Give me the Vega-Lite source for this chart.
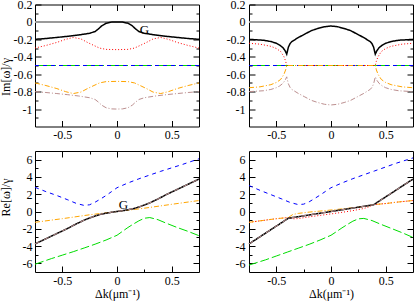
{
  "$schema": "https://vega.github.io/schema/vega-lite/v6.json",
  "autosize": {"type": "none"},
  "padding": {"left": 35, "top": 4.5, "right": 380, "bottom": 297.5},
  "background": "white",
  "bounds": "flush",
  "columns": 2,
  "spacing": {"row": 24.5, "column": 50},
  "config": {
    "view": {"stroke": "#000000", "strokeWidth": 1},
    "axis": {"domain": false, "grid": false, "tickColor": "#000000", "tickWidth": 1, "labelColor": "#000000", "labelFont": "Liberation Serif", "labelFontSize": 12, "titleFont": "Liberation Serif", "titleFontSize": 12, "titleFontWeight": "normal", "titleColor": "#000000", "labelOverlap": false, "labelFlush": false, "labelBound": false},
    "text": {"font": "Liberation Serif", "fontSize": 13, "color": "#000000"}
  },
  "datasets": {
    "tl": [
      {"s":"zero","k":-0.75,"v":0},{"s":"zero","k":0.75,"v":0},
      {"s":"green","k":-0.75,"v":-0.5},{"s":"green","k":0.75,"v":-0.5},
      {"s":"blue","k":-0.75,"v":-0.5},{"s":"blue","k":0.75,"v":-0.5},
      {"s":"red","k":-0.75,"v":-0.3},{"s":"red","k":-0.65,"v":-0.27},{"s":"red","k":-0.55,"v":-0.235},{"s":"red","k":-0.47,"v":-0.2},{"s":"red","k":-0.4,"v":-0.178},{"s":"red","k":-0.33,"v":-0.195},{"s":"red","k":-0.27,"v":-0.235},{"s":"red","k":-0.22,"v":-0.265},{"s":"red","k":-0.16,"v":-0.3},{"s":"red","k":-0.1,"v":-0.315},{"s":"red","k":0,"v":-0.318},{"s":"red","k":0.1,"v":-0.315},{"s":"red","k":0.16,"v":-0.3},{"s":"red","k":0.22,"v":-0.265},{"s":"red","k":0.27,"v":-0.235},{"s":"red","k":0.33,"v":-0.195},{"s":"red","k":0.4,"v":-0.178},{"s":"red","k":0.47,"v":-0.2},{"s":"red","k":0.55,"v":-0.235},{"s":"red","k":0.65,"v":-0.27},{"s":"red","k":0.75,"v":-0.3},
      {"s":"orange","k":-0.75,"v":-0.7},{"s":"orange","k":-0.65,"v":-0.73},{"s":"orange","k":-0.55,"v":-0.765},{"s":"orange","k":-0.47,"v":-0.8},{"s":"orange","k":-0.4,"v":-0.822},{"s":"orange","k":-0.33,"v":-0.805},{"s":"orange","k":-0.27,"v":-0.765},{"s":"orange","k":-0.22,"v":-0.735},{"s":"orange","k":-0.16,"v":-0.7},{"s":"orange","k":-0.1,"v":-0.685},{"s":"orange","k":0,"v":-0.682},{"s":"orange","k":0.1,"v":-0.685},{"s":"orange","k":0.16,"v":-0.7},{"s":"orange","k":0.22,"v":-0.735},{"s":"orange","k":0.27,"v":-0.765},{"s":"orange","k":0.33,"v":-0.805},{"s":"orange","k":0.4,"v":-0.822},{"s":"orange","k":0.47,"v":-0.8},{"s":"orange","k":0.55,"v":-0.765},{"s":"orange","k":0.65,"v":-0.73},{"s":"orange","k":0.75,"v":-0.7},
      {"s":"black","k":-0.75,"v":-0.2},{"s":"black","k":-0.65,"v":-0.19},{"s":"black","k":-0.55,"v":-0.178},{"s":"black","k":-0.45,"v":-0.165},{"s":"black","k":-0.35,"v":-0.15},{"s":"black","k":-0.25,"v":-0.13},{"s":"black","k":-0.2,"v":-0.11},{"s":"black","k":-0.17,"v":-0.08},{"s":"black","k":-0.14,"v":-0.045},{"s":"black","k":-0.1,"v":-0.015},{"s":"black","k":-0.05,"v":-0.002},{"s":"black","k":0,"v":0},{"s":"black","k":0.05,"v":-0.002},{"s":"black","k":0.1,"v":-0.015},{"s":"black","k":0.14,"v":-0.045},{"s":"black","k":0.17,"v":-0.08},{"s":"black","k":0.2,"v":-0.11},{"s":"black","k":0.25,"v":-0.13},{"s":"black","k":0.35,"v":-0.15},{"s":"black","k":0.45,"v":-0.165},{"s":"black","k":0.55,"v":-0.178},{"s":"black","k":0.65,"v":-0.19},{"s":"black","k":0.75,"v":-0.2},
      {"s":"brown","k":-0.75,"v":-0.8},{"s":"brown","k":-0.65,"v":-0.81},{"s":"brown","k":-0.55,"v":-0.822},{"s":"brown","k":-0.45,"v":-0.835},{"s":"brown","k":-0.35,"v":-0.85},{"s":"brown","k":-0.25,"v":-0.87},{"s":"brown","k":-0.2,"v":-0.89},{"s":"brown","k":-0.17,"v":-0.92},{"s":"brown","k":-0.14,"v":-0.955},{"s":"brown","k":-0.1,"v":-0.985},{"s":"brown","k":-0.05,"v":-0.998},{"s":"brown","k":0,"v":-1},{"s":"brown","k":0.05,"v":-0.998},{"s":"brown","k":0.1,"v":-0.985},{"s":"brown","k":0.14,"v":-0.955},{"s":"brown","k":0.17,"v":-0.92},{"s":"brown","k":0.2,"v":-0.89},{"s":"brown","k":0.25,"v":-0.87},{"s":"brown","k":0.35,"v":-0.85},{"s":"brown","k":0.45,"v":-0.835},{"s":"brown","k":0.55,"v":-0.822},{"s":"brown","k":0.65,"v":-0.81},{"s":"brown","k":0.75,"v":-0.8}
    ],
    "tr": [
      {"s":"zero","k":-0.75,"v":0},{"s":"zero","k":0.75,"v":0},
      {"s":"green","k":-0.75,"v":-0.5},{"s":"green","k":0.75,"v":-0.5},
      {"s":"blue","k":-0.75,"v":-0.5},{"s":"blue","k":0.75,"v":-0.5},
      {"s":"red","k":-0.75,"v":-0.245},{"s":"red","k":-0.65,"v":-0.255},{"s":"red","k":-0.55,"v":-0.28},{"s":"red","k":-0.5,"v":-0.305},{"s":"red","k":-0.46,"v":-0.34},{"s":"red","k":-0.43,"v":-0.4},{"s":"red","k":-0.415,"v":-0.45},{"s":"red","k":-0.405,"v":-0.5},{"s":"red","k":0.405,"v":-0.5},{"s":"red","k":0.415,"v":-0.45},{"s":"red","k":0.43,"v":-0.4},{"s":"red","k":0.46,"v":-0.34},{"s":"red","k":0.5,"v":-0.305},{"s":"red","k":0.55,"v":-0.28},{"s":"red","k":0.65,"v":-0.255},{"s":"red","k":0.75,"v":-0.245},
      {"s":"orange","k":-0.75,"v":-0.755},{"s":"orange","k":-0.65,"v":-0.745},{"s":"orange","k":-0.55,"v":-0.72},{"s":"orange","k":-0.5,"v":-0.695},{"s":"orange","k":-0.46,"v":-0.66},{"s":"orange","k":-0.43,"v":-0.6},{"s":"orange","k":-0.415,"v":-0.55},{"s":"orange","k":-0.405,"v":-0.5},{"s":"orange","k":0.405,"v":-0.5},{"s":"orange","k":0.415,"v":-0.55},{"s":"orange","k":0.43,"v":-0.6},{"s":"orange","k":0.46,"v":-0.66},{"s":"orange","k":0.5,"v":-0.695},{"s":"orange","k":0.55,"v":-0.72},{"s":"orange","k":0.65,"v":-0.745},{"s":"orange","k":0.75,"v":-0.755},
      {"s":"black","k":-0.75,"v":-0.2},{"s":"black","k":-0.62,"v":-0.21},{"s":"black","k":-0.55,"v":-0.225},{"s":"black","k":-0.5,"v":-0.245},{"s":"black","k":-0.47,"v":-0.265},{"s":"black","k":-0.44,"v":-0.295},{"s":"black","k":-0.42,"v":-0.33},{"s":"black","k":-0.405,"v":-0.37},{"s":"black","k":-0.39,"v":-0.29},{"s":"black","k":-0.375,"v":-0.25},{"s":"black","k":-0.36,"v":-0.227},{"s":"black","k":-0.3,"v":-0.18},{"s":"black","k":-0.24,"v":-0.14},{"s":"black","k":-0.18,"v":-0.1},{"s":"black","k":-0.12,"v":-0.075},{"s":"black","k":-0.06,"v":-0.055},{"s":"black","k":0,"v":-0.047},{"s":"black","k":0.06,"v":-0.055},{"s":"black","k":0.12,"v":-0.075},{"s":"black","k":0.18,"v":-0.1},{"s":"black","k":0.24,"v":-0.14},{"s":"black","k":0.3,"v":-0.18},{"s":"black","k":0.36,"v":-0.227},{"s":"black","k":0.375,"v":-0.25},{"s":"black","k":0.39,"v":-0.29},{"s":"black","k":0.405,"v":-0.37},{"s":"black","k":0.42,"v":-0.33},{"s":"black","k":0.44,"v":-0.295},{"s":"black","k":0.47,"v":-0.265},{"s":"black","k":0.5,"v":-0.245},{"s":"black","k":0.55,"v":-0.225},{"s":"black","k":0.62,"v":-0.21},{"s":"black","k":0.75,"v":-0.2},
      {"s":"brown","k":-0.75,"v":-0.8},{"s":"brown","k":-0.62,"v":-0.79},{"s":"brown","k":-0.55,"v":-0.775},{"s":"brown","k":-0.5,"v":-0.755},{"s":"brown","k":-0.47,"v":-0.735},{"s":"brown","k":-0.44,"v":-0.705},{"s":"brown","k":-0.42,"v":-0.67},{"s":"brown","k":-0.405,"v":-0.63},{"s":"brown","k":-0.39,"v":-0.71},{"s":"brown","k":-0.375,"v":-0.75},{"s":"brown","k":-0.36,"v":-0.773},{"s":"brown","k":-0.3,"v":-0.82},{"s":"brown","k":-0.24,"v":-0.86},{"s":"brown","k":-0.18,"v":-0.9},{"s":"brown","k":-0.12,"v":-0.925},{"s":"brown","k":-0.06,"v":-0.945},{"s":"brown","k":0,"v":-0.953},{"s":"brown","k":0.06,"v":-0.945},{"s":"brown","k":0.12,"v":-0.925},{"s":"brown","k":0.18,"v":-0.9},{"s":"brown","k":0.24,"v":-0.86},{"s":"brown","k":0.3,"v":-0.82},{"s":"brown","k":0.36,"v":-0.773},{"s":"brown","k":0.375,"v":-0.75},{"s":"brown","k":0.39,"v":-0.71},{"s":"brown","k":0.405,"v":-0.63},{"s":"brown","k":0.42,"v":-0.67},{"s":"brown","k":0.44,"v":-0.705},{"s":"brown","k":0.47,"v":-0.735},{"s":"brown","k":0.5,"v":-0.755},{"s":"brown","k":0.55,"v":-0.775},{"s":"brown","k":0.62,"v":-0.79},{"s":"brown","k":0.75,"v":-0.8}
    ],
    "bl": [
      {"s":"blue","k":-0.75,"v":2.8},{"s":"blue","k":-0.65,"v":2.3},{"s":"blue","k":-0.55,"v":1.85},{"s":"blue","k":-0.45,"v":1.35},{"s":"blue","k":-0.375,"v":0.95},{"s":"blue","k":-0.3,"v":0.7},{"s":"blue","k":-0.25,"v":0.78},{"s":"blue","k":-0.2,"v":1.08},{"s":"blue","k":-0.15,"v":1.45},{"s":"blue","k":-0.1,"v":1.85},{"s":"blue","k":-0.05,"v":2.3},{"s":"blue","k":0,"v":2.75},{"s":"blue","k":0.1,"v":3.3},{"s":"blue","k":0.2,"v":3.78},{"s":"blue","k":0.3,"v":4.22},{"s":"blue","k":0.4,"v":4.65},{"s":"blue","k":0.5,"v":5.05},{"s":"blue","k":0.6,"v":5.45},{"s":"blue","k":0.75,"v":6.1},
      {"s":"green","k":-0.75,"v":-6.1},{"s":"green","k":-0.6,"v":-5.45},{"s":"green","k":-0.5,"v":-5.05},{"s":"green","k":-0.4,"v":-4.65},{"s":"green","k":-0.3,"v":-4.22},{"s":"green","k":-0.2,"v":-3.78},{"s":"green","k":-0.1,"v":-3.3},{"s":"green","k":0,"v":-2.75},{"s":"green","k":0.05,"v":-2.3},{"s":"green","k":0.1,"v":-1.85},{"s":"green","k":0.15,"v":-1.45},{"s":"green","k":0.2,"v":-1.08},{"s":"green","k":0.25,"v":-0.78},{"s":"green","k":0.3,"v":-0.7},{"s":"green","k":0.375,"v":-0.95},{"s":"green","k":0.45,"v":-1.35},{"s":"green","k":0.55,"v":-1.85},{"s":"green","k":0.65,"v":-2.3},{"s":"green","k":0.75,"v":-2.8},
      {"s":"orange","k":-0.75,"v":-1.25},{"s":"orange","k":-0.5,"v":-0.83},{"s":"orange","k":-0.25,"v":-0.38},{"s":"orange","k":-0.1,"v":-0.15},{"s":"orange","k":0,"v":0},{"s":"orange","k":0.1,"v":0.15},{"s":"orange","k":0.25,"v":0.38},{"s":"orange","k":0.5,"v":0.83},{"s":"orange","k":0.75,"v":1.27},
      {"s":"black","k":-0.75,"v":-3.75},{"s":"black","k":-0.65,"v":-3.15},{"s":"black","k":-0.55,"v":-2.55},{"s":"black","k":-0.45,"v":-1.95},{"s":"black","k":-0.375,"v":-1.45},{"s":"black","k":-0.3,"v":-1.0},{"s":"black","k":-0.25,"v":-0.75},{"s":"black","k":-0.2,"v":-0.52},{"s":"black","k":-0.15,"v":-0.33},{"s":"black","k":-0.1,"v":-0.2},{"s":"black","k":-0.05,"v":-0.09},{"s":"black","k":0,"v":0},{"s":"black","k":0.05,"v":0.09},{"s":"black","k":0.1,"v":0.2},{"s":"black","k":0.15,"v":0.33},{"s":"black","k":0.2,"v":0.52},{"s":"black","k":0.25,"v":0.75},{"s":"black","k":0.3,"v":1.0},{"s":"black","k":0.375,"v":1.45},{"s":"black","k":0.45,"v":1.95},{"s":"black","k":0.55,"v":2.55},{"s":"black","k":0.65,"v":3.15},{"s":"black","k":0.75,"v":3.75},
      {"s":"brown","k":-0.75,"v":-3.75},{"s":"brown","k":-0.65,"v":-3.15},{"s":"brown","k":-0.55,"v":-2.55},{"s":"brown","k":-0.45,"v":-1.95},{"s":"brown","k":-0.375,"v":-1.45},{"s":"brown","k":-0.3,"v":-1.0},{"s":"brown","k":-0.25,"v":-0.75},{"s":"brown","k":-0.2,"v":-0.52},{"s":"brown","k":-0.15,"v":-0.33},{"s":"brown","k":-0.1,"v":-0.2},{"s":"brown","k":-0.05,"v":-0.09},{"s":"brown","k":0,"v":0},{"s":"brown","k":0.05,"v":0.09},{"s":"brown","k":0.1,"v":0.2},{"s":"brown","k":0.15,"v":0.33},{"s":"brown","k":0.2,"v":0.52},{"s":"brown","k":0.25,"v":0.75},{"s":"brown","k":0.3,"v":1.0},{"s":"brown","k":0.375,"v":1.45},{"s":"brown","k":0.45,"v":1.95},{"s":"brown","k":0.55,"v":2.55},{"s":"brown","k":0.65,"v":3.15},{"s":"brown","k":0.75,"v":3.75}
    ],
    "br": [
      {"s":"blue","k":-0.75,"v":3.0},{"s":"blue","k":-0.65,"v":2.45},{"s":"blue","k":-0.55,"v":1.95},{"s":"blue","k":-0.45,"v":1.45},{"s":"blue","k":-0.375,"v":1.05},{"s":"blue","k":-0.3,"v":0.8},{"s":"blue","k":-0.25,"v":0.85},{"s":"blue","k":-0.2,"v":1.12},{"s":"blue","k":-0.15,"v":1.5},{"s":"blue","k":-0.1,"v":1.9},{"s":"blue","k":-0.05,"v":2.33},{"s":"blue","k":0,"v":2.75},{"s":"blue","k":0.1,"v":3.3},{"s":"blue","k":0.2,"v":3.8},{"s":"blue","k":0.3,"v":4.25},{"s":"blue","k":0.4,"v":4.7},{"s":"blue","k":0.5,"v":5.15},{"s":"blue","k":0.6,"v":5.6},{"s":"blue","k":0.75,"v":6.2},
      {"s":"green","k":-0.75,"v":-6.2},{"s":"green","k":-0.6,"v":-5.6},{"s":"green","k":-0.5,"v":-5.15},{"s":"green","k":-0.4,"v":-4.7},{"s":"green","k":-0.3,"v":-4.25},{"s":"green","k":-0.2,"v":-3.8},{"s":"green","k":-0.1,"v":-3.3},{"s":"green","k":0,"v":-2.75},{"s":"green","k":0.05,"v":-2.33},{"s":"green","k":0.1,"v":-1.9},{"s":"green","k":0.15,"v":-1.5},{"s":"green","k":0.2,"v":-1.12},{"s":"green","k":0.25,"v":-0.85},{"s":"green","k":0.3,"v":-0.8},{"s":"green","k":0.375,"v":-1.05},{"s":"green","k":0.45,"v":-1.45},{"s":"green","k":0.55,"v":-1.95},{"s":"green","k":0.65,"v":-2.45},{"s":"green","k":0.75,"v":-3.0},
      {"s":"red","k":-0.75,"v":-1.25},{"s":"red","k":-0.6,"v":-1.0},{"s":"red","k":-0.5,"v":-0.83},{"s":"red","k":-0.39,"v":-0.7},{"s":"red","k":-0.35,"v":-0.85},{"s":"red","k":-0.3,"v":-0.82},{"s":"red","k":-0.2,"v":-0.62},{"s":"red","k":-0.1,"v":-0.45},{"s":"red","k":0,"v":-0.28},{"s":"red","k":0.1,"v":-0.1},{"s":"red","k":0.2,"v":0.1},{"s":"red","k":0.3,"v":0.35},{"s":"red","k":0.35,"v":0.55},{"s":"red","k":0.39,"v":0.8},{"s":"red","k":0.5,"v":0.92},{"s":"red","k":0.6,"v":1.08},{"s":"red","k":0.75,"v":1.27},
      {"s":"orange","k":-0.75,"v":-1.25},{"s":"orange","k":-0.6,"v":-1.0},{"s":"orange","k":-0.5,"v":-0.83},{"s":"orange","k":-0.39,"v":-0.7},{"s":"orange","k":-0.35,"v":-0.35},{"s":"orange","k":-0.3,"v":-0.22},{"s":"orange","k":-0.2,"v":-0.07},{"s":"orange","k":-0.1,"v":0.05},{"s":"orange","k":0,"v":0.17},{"s":"orange","k":0.1,"v":0.3},{"s":"orange","k":0.2,"v":0.43},{"s":"orange","k":0.3,"v":0.57},{"s":"orange","k":0.35,"v":0.68},{"s":"orange","k":0.39,"v":0.8},{"s":"orange","k":0.5,"v":0.92},{"s":"orange","k":0.6,"v":1.08},{"s":"orange","k":0.75,"v":1.27},
      {"s":"black","k":-0.75,"v":-3.75},{"s":"black","k":-0.65,"v":-2.93},{"s":"black","k":-0.55,"v":-2.1},{"s":"black","k":-0.45,"v":-1.28},{"s":"black","k":-0.39,"v":-0.78},{"s":"black","k":-0.3,"v":-0.6},{"s":"black","k":-0.2,"v":-0.4},{"s":"black","k":-0.1,"v":-0.2},{"s":"black","k":0,"v":0},{"s":"black","k":0.1,"v":0.2},{"s":"black","k":0.2,"v":0.4},{"s":"black","k":0.3,"v":0.6},{"s":"black","k":0.39,"v":0.78},{"s":"black","k":0.45,"v":1.28},{"s":"black","k":0.55,"v":2.1},{"s":"black","k":0.65,"v":2.93},{"s":"black","k":0.75,"v":3.75},
      {"s":"brown","k":-0.75,"v":-3.75},{"s":"brown","k":-0.65,"v":-2.93},{"s":"brown","k":-0.55,"v":-2.1},{"s":"brown","k":-0.45,"v":-1.28},{"s":"brown","k":-0.39,"v":-0.78},{"s":"brown","k":-0.3,"v":-0.6},{"s":"brown","k":-0.2,"v":-0.4},{"s":"brown","k":-0.1,"v":-0.2},{"s":"brown","k":0,"v":0},{"s":"brown","k":0.1,"v":0.2},{"s":"brown","k":0.2,"v":0.4},{"s":"brown","k":0.3,"v":0.6},{"s":"brown","k":0.39,"v":0.78},{"s":"brown","k":0.45,"v":1.28},{"s":"brown","k":0.55,"v":2.1},{"s":"brown","k":0.65,"v":2.93},{"s":"brown","k":0.75,"v":3.75}
    ]
  },
  "concat": [
    {
      "width": 164, "height": 122,
      "data": {"name": "tl"},
      "layer": [
        {"mark": {"type": "line", "strokeCap": "butt"},
         "encoding": {
           "x": {"field": "k", "type": "quantitative", "scale": {"domain": [-0.75, 0.75], "nice": false, "zero": false},
                 "axis": {"orient": "bottom", "values": [-0.5, -0.25, 0, 0.25, 0.5], "tickSize": {"condition": {"test": "round(datum.value*4)%2===0", "value": -6}, "value": -3}, "labelExpr": "round(datum.value*4)%2===0 ? replace(format(datum.value,'.1~f'),'\u2212','-') : ''", "labelPadding": 9, "title": null}},
           "y": {"field": "v", "type": "quantitative", "scale": {"domain": [-1.2, 0.2], "nice": false, "zero": false},
                 "axis": {"orient": "left", "values": [-1.1, -1, -0.9, -0.8, -0.7, -0.6, -0.5, -0.4, -0.3, -0.2, -0.1, 0, 0.1, 0.2], "tickSize": {"condition": {"test": "round(datum.value*10)%2===0", "value": -6}, "value": -3}, "labelExpr": "round(datum.value*10)%2===0 ? replace(format(datum.value,'.1~f'),'\u2212','-') : ''", "labelPadding": 9, "title": "Im[ω]/γ", "titleX": -29.5, "titleY": 72, "titleAngle": -90, "titleAlign": "center", "titleBaseline": "middle"}},
           "color": {"field": "s", "type": "nominal", "legend": null, "scale": {"domain": ["zero","blue","green","red","orange","black","brown"], "range": ["#999999","#0000ff","#00dd00","#ff0000","#ffa500","#000000","#bc8f8f"]}},
           "strokeDash": {"field": "s", "type": "nominal", "legend": null, "scale": {"domain": ["zero","blue","green","red","orange","black","brown"], "range": [[1,0],[4,4],[9,3],[1,2],[5,2,1,2],[1,0],[5,2,1,2]]}},
           "strokeWidth": {"field": "s", "type": "nominal", "legend": null, "scale": {"type": "ordinal", "domain": ["zero","blue","green","red","orange","black","brown"], "range": [2,1,1,1,1,1.5,1]}}
         }},
        {"mark": {"type": "point", "opacity": 0},
         "encoding": {
           "x": {"field": "k", "type": "quantitative", "axis": {"orient": "top", "values": [-0.5, -0.25, 0, 0.25, 0.5], "tickSize": {"condition": {"test": "round(datum.value*4)%2===0", "value": -6}, "value": -3}, "labels": false, "title": null}},
           "y": {"field": "v", "type": "quantitative", "axis": {"orient": "right", "values": [-1.1, -1, -0.9, -0.8, -0.7, -0.6, -0.5, -0.4, -0.3, -0.2, -0.1, 0, 0.1], "tickSize": {"condition": {"test": "round(datum.value*10)%2===0", "value": -6}, "value": -3}, "labels": false, "title": null}}
         }},
        {"data": {"values": [{"k": 0.25, "v": -0.089, "t": "G"}]},
         "mark": {"type": "text"},
         "encoding": {"x": {"field": "k", "type": "quantitative", "axis": null}, "y": {"field": "v", "type": "quantitative", "axis": null}, "text": {"field": "t"}}}
      ],
      "resolve": {"axis": {"x": "independent", "y": "independent"}}
    },
    {
      "width": 164, "height": 122,
      "data": {"name": "tr"},
      "layer": [
        {"mark": {"type": "line", "strokeCap": "butt"},
         "encoding": {
           "x": {"field": "k", "type": "quantitative", "scale": {"domain": [-0.75, 0.75], "nice": false, "zero": false},
                 "axis": {"orient": "bottom", "values": [-0.5, -0.25, 0, 0.25, 0.5], "tickSize": {"condition": {"test": "round(datum.value*4)%2===0", "value": -6}, "value": -3}, "labelExpr": "round(datum.value*4)%2===0 ? replace(format(datum.value,'.1~f'),'\u2212','-') : ''", "labelPadding": 9, "title": null}},
           "y": {"field": "v", "type": "quantitative", "scale": {"domain": [-1.2, 0.2], "nice": false, "zero": false},
                 "axis": {"orient": "left", "values": [-1.1, -1, -0.9, -0.8, -0.7, -0.6, -0.5, -0.4, -0.3, -0.2, -0.1, 0, 0.1, 0.2], "tickSize": {"condition": {"test": "round(datum.value*10)%2===0", "value": -6}, "value": -3}, "labelExpr": "round(datum.value*10)%2===0 ? replace(format(datum.value,'.1~f'),'\u2212','-') : ''", "labelPadding": 10, "title": null}},
           "color": {"field": "s", "type": "nominal", "legend": null, "scale": {"domain": ["zero","blue","green","red","orange","black","brown"], "range": ["#999999","#0000ff","#00dd00","#ff0000","#ffa500","#000000","#bc8f8f"]}},
           "strokeDash": {"field": "s", "type": "nominal", "legend": null, "scale": {"domain": ["zero","blue","green","red","orange","black","brown"], "range": [[1,0],[4,4],[9,3],[1,2],[5,2,1,2],[1,0],[5,2,1,2]]}},
           "strokeWidth": {"field": "s", "type": "nominal", "legend": null, "scale": {"type": "ordinal", "domain": ["zero","blue","green","red","orange","black","brown"], "range": [2,1,1,1,1,1.5,1]}}
         }},
        {"mark": {"type": "point", "opacity": 0},
         "encoding": {
           "x": {"field": "k", "type": "quantitative", "axis": {"orient": "top", "values": [-0.5, -0.25, 0, 0.25, 0.5], "tickSize": {"condition": {"test": "round(datum.value*4)%2===0", "value": -6}, "value": -3}, "labels": false, "title": null}},
           "y": {"field": "v", "type": "quantitative", "axis": {"orient": "right", "values": [-1.1, -1, -0.9, -0.8, -0.7, -0.6, -0.5, -0.4, -0.3, -0.2, -0.1, 0, 0.1], "tickSize": {"condition": {"test": "round(datum.value*10)%2===0", "value": -6}, "value": -3}, "labels": false, "title": null}}
         }}
      ],
      "resolve": {"axis": {"x": "independent", "y": "independent"}}
    },
    {
      "width": 164, "height": 121,
      "data": {"name": "bl"},
      "layer": [
        {"mark": {"type": "line", "strokeCap": "butt"},
         "encoding": {
           "x": {"field": "k", "type": "quantitative", "scale": {"domain": [-0.75, 0.75], "nice": false, "zero": false},
                 "axis": {"orient": "bottom", "values": [-0.5, -0.25, 0, 0.25, 0.5], "tickSize": {"condition": {"test": "round(datum.value*4)%2===0", "value": -6}, "value": -3}, "labelExpr": "round(datum.value*4)%2===0 ? replace(format(datum.value,'.1~f'),'\u2212','-') : ''", "labelPadding": 9, "title": "Δk(μm⁻¹)", "titleY": 21, "titleBaseline": "middle"}},
           "y": {"field": "v", "type": "quantitative", "scale": {"domain": [-7, 7], "nice": false, "zero": false},
                 "axis": {"orient": "left", "values": [-6, -5, -4, -3, -2, -1, 0, 1, 2, 3, 4, 5, 6], "tickSize": {"condition": {"test": "round(datum.value)%2===0", "value": -6}, "value": -3}, "labelExpr": "round(datum.value)%2===0 ? replace(format(datum.value,'d'),'\u2212','-') : ''", "labelPadding": 9, "title": "Re[ω]/γ", "titleX": -29.5, "titleY": 46, "titleAngle": -90, "titleAlign": "center", "titleBaseline": "middle"}},
           "color": {"field": "s", "type": "nominal", "legend": null, "scale": {"domain": ["zero","blue","green","red","orange","black","brown"], "range": ["#999999","#0000ff","#00ff00","#ff0000","#ffa500","#000000","#bc8f8f"]}},
           "strokeDash": {"field": "s", "type": "nominal", "legend": null, "scale": {"domain": ["zero","blue","green","red","orange","black","brown"], "range": [[1,0],[5,3],[5,3],[1,2],[5,2,1,2],[1,0],[5,2,1,2]]}},
           "strokeWidth": {"field": "s", "type": "nominal", "legend": null, "scale": {"type": "ordinal", "domain": ["zero","blue","green","red","orange","black","brown"], "range": [2,1,1,1,1,1.5,1]}}
         }},
        {"mark": {"type": "point", "opacity": 0},
         "encoding": {
           "x": {"field": "k", "type": "quantitative", "axis": {"orient": "top", "values": [-0.5, -0.25, 0, 0.25, 0.5], "tickSize": {"condition": {"test": "round(datum.value*4)%2===0", "value": -6}, "value": -3}, "labels": false, "title": null}},
           "y": {"field": "v", "type": "quantitative", "axis": {"orient": "right", "values": [-6, -5, -4, -3, -2, -1, 0, 1, 2, 3, 4, 5, 6], "tickSize": {"condition": {"test": "round(datum.value)%2===0", "value": -6}, "value": -3}, "labels": false, "title": null}}
         }},
        {"data": {"values": [{"k": 0.058, "v": 0.7, "t": "G"}]},
         "mark": {"type": "text"},
         "encoding": {"x": {"field": "k", "type": "quantitative", "axis": null}, "y": {"field": "v", "type": "quantitative", "axis": null}, "text": {"field": "t"}}}
      ],
      "resolve": {"axis": {"x": "independent", "y": "independent"}}
    },
    {
      "width": 164, "height": 121,
      "data": {"name": "br"},
      "layer": [
        {"mark": {"type": "line", "strokeCap": "butt"},
         "encoding": {
           "x": {"field": "k", "type": "quantitative", "scale": {"domain": [-0.75, 0.75], "nice": false, "zero": false},
                 "axis": {"orient": "bottom", "values": [-0.5, -0.25, 0, 0.25, 0.5], "tickSize": {"condition": {"test": "round(datum.value*4)%2===0", "value": -6}, "value": -3}, "labelExpr": "round(datum.value*4)%2===0 ? replace(format(datum.value,'.1~f'),'\u2212','-') : ''", "labelPadding": 9, "title": "Δk(μm⁻¹)", "titleY": 21, "titleBaseline": "middle"}},
           "y": {"field": "v", "type": "quantitative", "scale": {"domain": [-7, 7], "nice": false, "zero": false},
                 "axis": {"orient": "left", "values": [-6, -5, -4, -3, -2, -1, 0, 1, 2, 3, 4, 5, 6], "tickSize": {"condition": {"test": "round(datum.value)%2===0", "value": -6}, "value": -3}, "labelExpr": "round(datum.value)%2===0 ? replace(format(datum.value,'d'),'\u2212','-') : ''", "labelPadding": 10, "title": null}},
           "color": {"field": "s", "type": "nominal", "legend": null, "scale": {"domain": ["zero","blue","green","red","orange","black","brown"], "range": ["#999999","#0000ff","#00ff00","#ff0000","#ffa500","#000000","#bc8f8f"]}},
           "strokeDash": {"field": "s", "type": "nominal", "legend": null, "scale": {"domain": ["zero","blue","green","red","orange","black","brown"], "range": [[1,0],[5,3],[5,3],[1,2],[5,2,1,2],[1,0],[5,2,1,2]]}},
           "strokeWidth": {"field": "s", "type": "nominal", "legend": null, "scale": {"type": "ordinal", "domain": ["zero","blue","green","red","orange","black","brown"], "range": [2,1,1,1,1,1.5,1]}}
         }},
        {"mark": {"type": "point", "opacity": 0},
         "encoding": {
           "x": {"field": "k", "type": "quantitative", "axis": {"orient": "top", "values": [-0.5, -0.25, 0, 0.25, 0.5], "tickSize": {"condition": {"test": "round(datum.value*4)%2===0", "value": -6}, "value": -3}, "labels": false, "title": null}},
           "y": {"field": "v", "type": "quantitative", "axis": {"orient": "right", "values": [-6, -5, -4, -3, -2, -1, 0, 1, 2, 3, 4, 5, 6], "tickSize": {"condition": {"test": "round(datum.value)%2===0", "value": -6}, "value": -3}, "labels": false, "title": null}}
         }}
      ],
      "resolve": {"axis": {"x": "independent", "y": "independent"}}
    }
  ]
}
